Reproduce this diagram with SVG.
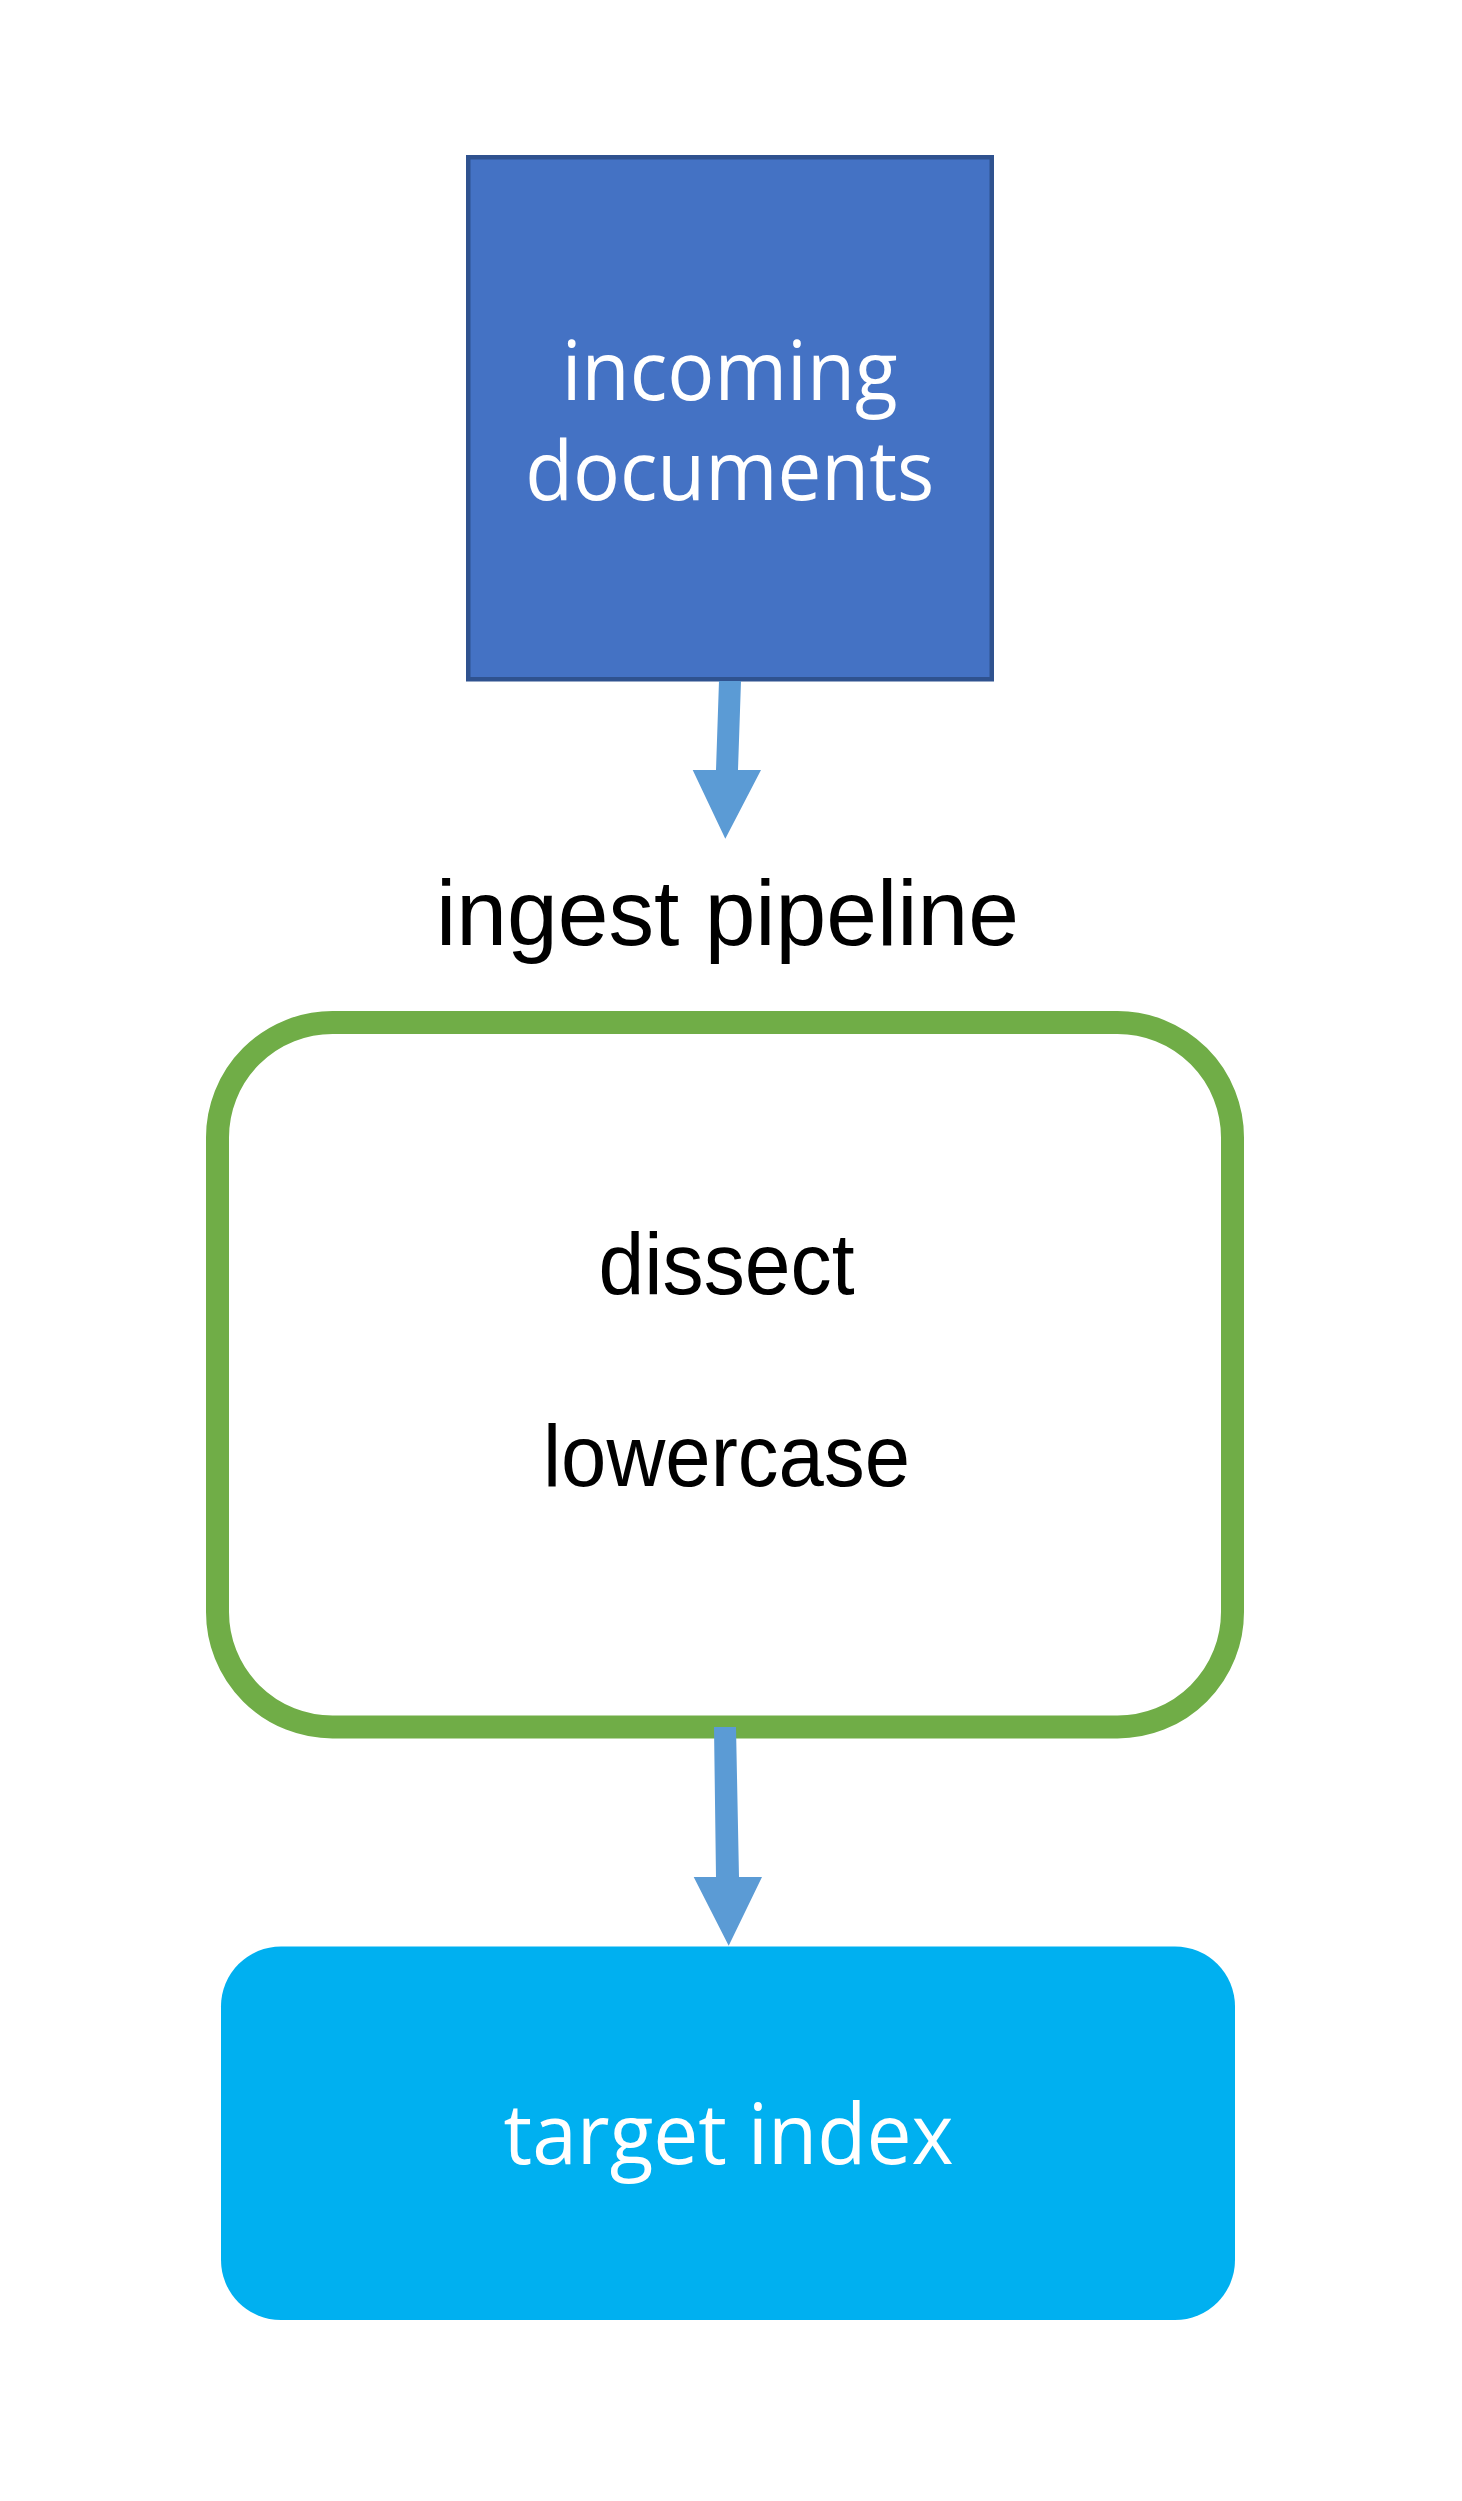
<svg xmlns="http://www.w3.org/2000/svg" width="1462" height="2501" viewBox="0 0 1462 2501">
<style>
.seg{font-family:"Open Sans","Noto Sans","DejaVu Sans",sans-serif;fill:#ffffff;text-anchor:middle}
.ari{font-family:"Liberation Sans",Arial,sans-serif;fill:#000000;text-anchor:middle}
.arrow{fill:#5B9BD5}
</style>
<rect x="0" y="0" width="1462" height="2501" fill="#ffffff"/>
<g id="incoming-documents">
<rect x="468.25" y="157.25" width="523.5" height="522" fill="#4472C4" stroke="#2F528F" stroke-width="4.5"/>
<text class="seg" x="729.7" y="400" font-size="82" textLength="336" lengthAdjust="spacingAndGlyphs">incoming</text>
<text class="seg" x="729.7" y="500" font-size="82" textLength="409" lengthAdjust="spacingAndGlyphs">documents</text>
</g>
<g id="ingest-pipeline-label">
<text class="ari" x="727.5" y="945" font-size="92" textLength="583" lengthAdjust="spacingAndGlyphs">ingest pipeline</text>
</g>
<g id="ingest-pipeline">
<rect x="217.5" y="1022.5" width="1015" height="704.5" rx="115" ry="115" fill="#ffffff" stroke="#70AD47" stroke-width="23"/>
<text class="ari" x="726.5" y="1294" font-size="87" textLength="256" lengthAdjust="spacingAndGlyphs">dissect</text>
<text class="ari" x="726.5" y="1486" font-size="87" textLength="367" lengthAdjust="spacingAndGlyphs">lowercase</text>
</g>
<g id="target-index">
<rect x="221" y="1946.5" width="1014" height="373.5" rx="60" ry="60" fill="#00B0F0"/>
<text class="seg" x="728.6" y="2164" font-size="84" textLength="450" lengthAdjust="spacingAndGlyphs">target index</text>
</g>
<g id="connectors">
<path class="arrow" d="M719,681 L741,681 L738,770 L761,770 L725.3,838.7 L692.7,770 L716,770 Z"/>
<path class="arrow" d="M714,1727 L736,1727 L739,1877 L762,1877 L728.7,1945.7 L693.7,1877 L716,1877 Z"/>
</g>
</svg>
